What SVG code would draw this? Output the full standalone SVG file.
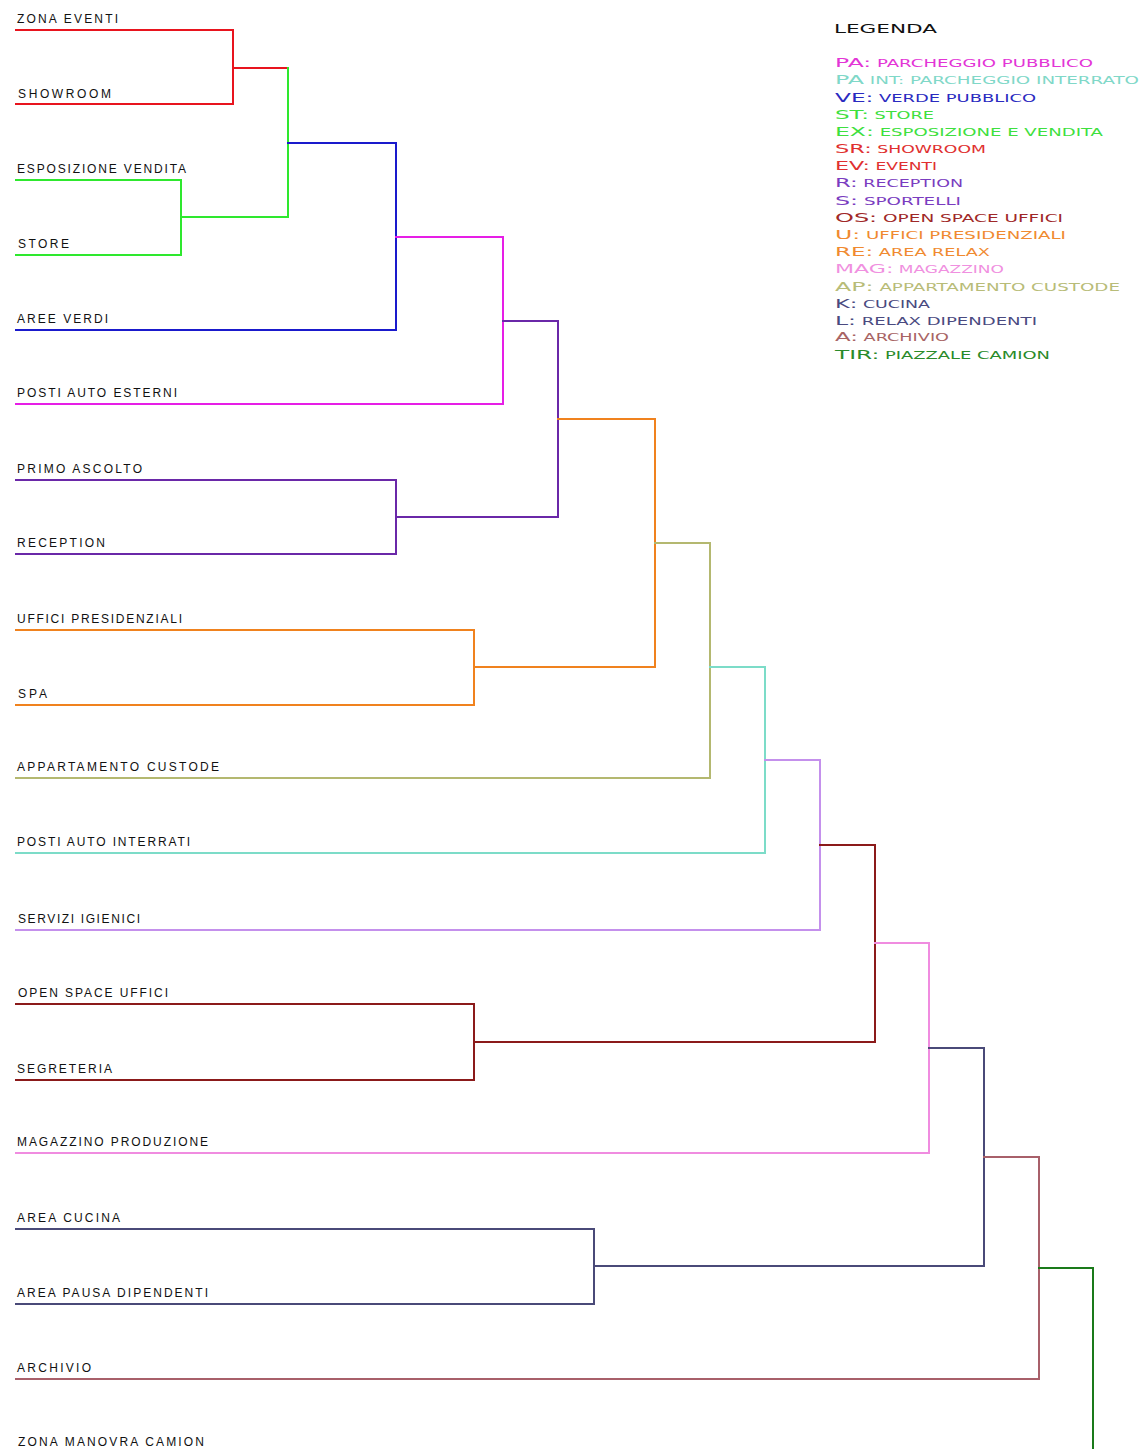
<svg xmlns="http://www.w3.org/2000/svg" width="1146" height="1449" viewBox="0 0 1146 1449">
<style>
.lbl{font-family:"Liberation Sans",Arial,sans-serif;font-size:12px;fill:#111}
.c{fill:none;stroke-width:2;stroke-linejoin:miter;stroke-linecap:square}
.lg{font-family:"DejaVu Sans","Liberation Sans",sans-serif;font-size:10px}
.lg .b{font-size:13px}
.ttl{font-family:"DejaVu Sans","Liberation Sans",sans-serif;font-size:13px;fill:#111}
</style>
<rect width="1146" height="1449" fill="#fff"/>
<g id="connectors">
<path class="c" stroke="#e8141e" d="M16 30H233V104H16M233 68H288"/>
<path class="c" stroke="#2ee82e" d="M16 180H181V255H16M181 217H288V68"/>
<path class="c" stroke="#1a1acc" d="M288 143H396V330H16"/>
<path class="c" stroke="#e61ee6" d="M396 237H503V404H16"/>
<path class="c" stroke="#6a28a8" d="M16 480H396V554H16M396 517H558V321H503"/>
<path class="c" stroke="#f0821e" d="M558 419H655V667H474M16 630H474V705H16"/>
<path class="c" stroke="#b4b870" d="M655 543H710V778H16"/>
<path class="c" stroke="#7cdcc8" d="M710 667H765V853H16"/>
<path class="c" stroke="#c490ec" d="M765 760H820V930H16"/>
<path class="c" stroke="#8b1a1a" d="M820 845H875V1042H474M16 1004H474V1080H16"/>
<path class="c" stroke="#f08ce0" d="M875 943H929V1153H16"/>
<path class="c" stroke="#4a4a78" d="M929 1048H984V1266H594M16 1229H594V1304H16"/>
<path class="c" stroke="#a8606a" d="M984 1157H1039V1379H16"/>
<path class="c" stroke="#1a7a1a" d="M1039 1268H1093V1460"/>
</g>
<g id="n-zona-eventi"><text class="lbl" x="17" y="22.5" textLength="101" lengthAdjust="spacing">ZONA EVENTI</text></g>
<g id="n-showroom"><text class="lbl" x="18" y="97.5" textLength="93" lengthAdjust="spacing">SHOWROOM</text></g>
<g id="n-esposizione"><text class="lbl" x="17" y="172.5" textLength="169" lengthAdjust="spacing">ESPOSIZIONE VENDITA</text></g>
<g id="n-store"><text class="lbl" x="18" y="247.5" textLength="51" lengthAdjust="spacing">STORE</text></g>
<g id="n-aree-verdi"><text class="lbl" x="17" y="322.5" textLength="91" lengthAdjust="spacing">AREE VERDI</text></g>
<g id="n-posti-esterni"><text class="lbl" x="17" y="396.5" textLength="160" lengthAdjust="spacing">POSTI AUTO ESTERNI</text></g>
<g id="n-primo-ascolto"><text class="lbl" x="17" y="472.5" textLength="125" lengthAdjust="spacing">PRIMO ASCOLTO</text></g>
<g id="n-reception"><text class="lbl" x="17" y="546.5" textLength="88" lengthAdjust="spacing">RECEPTION</text></g>
<g id="n-uffici-pres"><text class="lbl" x="17" y="622.5" textLength="165" lengthAdjust="spacing">UFFICI PRESIDENZIALI</text></g>
<g id="n-spa"><text class="lbl" x="18" y="697.5" textLength="29" lengthAdjust="spacing">SPA</text></g>
<g id="n-appartamento"><text class="lbl" x="17" y="770.5" textLength="202" lengthAdjust="spacing">APPARTAMENTO CUSTODE</text></g>
<g id="n-posti-interrati"><text class="lbl" x="17" y="845.5" textLength="173" lengthAdjust="spacing">POSTI AUTO INTERRATI</text></g>
<g id="n-servizi"><text class="lbl" x="18" y="922.5" textLength="122" lengthAdjust="spacing">SERVIZI IGIENICI</text></g>
<g id="n-open-space"><text class="lbl" x="18" y="996.5" textLength="150" lengthAdjust="spacing">OPEN SPACE UFFICI</text></g>
<g id="n-segreteria"><text class="lbl" x="17" y="1072.5" textLength="95" lengthAdjust="spacing">SEGRETERIA</text></g>
<g id="n-magazzino"><text class="lbl" x="17" y="1145.5" textLength="191" lengthAdjust="spacing">MAGAZZINO PRODUZIONE</text></g>
<g id="n-cucina"><text class="lbl" x="17" y="1221.5" textLength="103" lengthAdjust="spacing">AREA CUCINA</text></g>
<g id="n-pausa"><text class="lbl" x="17" y="1296.5" textLength="191" lengthAdjust="spacing">AREA PAUSA DIPENDENTI</text></g>
<g id="n-archivio"><text class="lbl" x="17" y="1371.5" textLength="74" lengthAdjust="spacing">ARCHIVIO</text></g>
<g id="n-zona-camion"><text class="lbl" x="18" y="1445.5" textLength="186" lengthAdjust="spacing">ZONA MANOVRA CAMION</text></g>
<g id="legend">
<text class="ttl" x="834" y="32.5" textLength="103" lengthAdjust="spacingAndGlyphs">LEGENDA</text>
<text class="lg" x="835" y="67" fill="#e335d6" textLength="258" lengthAdjust="spacingAndGlyphs"><tspan class="b">PA:</tspan> PARCHEGGIO PUBBLICO</text>
<text class="lg" x="835" y="84" fill="#80d8c8" textLength="304" lengthAdjust="spacingAndGlyphs"><tspan class="b">PA</tspan> INT: PARCHEGGIO INTERRATO</text>
<text class="lg" x="835" y="101.5" fill="#2a2ac0" textLength="201" lengthAdjust="spacingAndGlyphs"><tspan class="b">VE:</tspan> VERDE PUBBLICO</text>
<text class="lg" x="835" y="119" fill="#3ee03e" textLength="99" lengthAdjust="spacingAndGlyphs"><tspan class="b">ST:</tspan> STORE</text>
<text class="lg" x="835" y="136" fill="#3ee03e" textLength="268" lengthAdjust="spacingAndGlyphs"><tspan class="b">EX:</tspan> ESPOSIZIONE E VENDITA</text>
<text class="lg" x="835" y="153" fill="#e03030" textLength="151" lengthAdjust="spacingAndGlyphs"><tspan class="b">SR:</tspan> SHOWROOM</text>
<text class="lg" x="835" y="170" fill="#e03030" textLength="102" lengthAdjust="spacingAndGlyphs"><tspan class="b">EV:</tspan> EVENTI</text>
<text class="lg" x="835" y="187" fill="#7a3cc0" textLength="128" lengthAdjust="spacingAndGlyphs"><tspan class="b">R:</tspan> RECEPTION</text>
<text class="lg" x="835" y="204.5" fill="#7a3cc0" textLength="126" lengthAdjust="spacingAndGlyphs"><tspan class="b">S:</tspan> SPORTELLI</text>
<text class="lg" x="835" y="221.5" fill="#a02828" textLength="228" lengthAdjust="spacingAndGlyphs"><tspan class="b">OS:</tspan> OPEN SPACE UFFICI</text>
<text class="lg" x="835" y="239" fill="#f08a30" textLength="231" lengthAdjust="spacingAndGlyphs"><tspan class="b">U:</tspan> UFFICI PRESIDENZIALI</text>
<text class="lg" x="835" y="256" fill="#f08a30" textLength="155" lengthAdjust="spacingAndGlyphs"><tspan class="b">RE:</tspan> AREA RELAX</text>
<text class="lg" x="835" y="273" fill="#f090e0" textLength="169" lengthAdjust="spacingAndGlyphs"><tspan class="b">MAG:</tspan> MAGAZZINO</text>
<text class="lg" x="835" y="290.5" fill="#b8bc78" textLength="285" lengthAdjust="spacingAndGlyphs"><tspan class="b">AP:</tspan> APPARTAMENTO CUSTODE</text>
<text class="lg" x="835" y="307.5" fill="#4a4a80" textLength="95" lengthAdjust="spacingAndGlyphs"><tspan class="b">K:</tspan> CUCINA</text>
<text class="lg" x="835" y="324.5" fill="#4a4a80" textLength="202" lengthAdjust="spacingAndGlyphs"><tspan class="b">L:</tspan> RELAX DIPENDENTI</text>
<text class="lg" x="835" y="341" fill="#a86464" textLength="114" lengthAdjust="spacingAndGlyphs"><tspan class="b">A:</tspan> ARCHIVIO</text>
<text class="lg" x="835" y="358.5" fill="#2a8a2a" textLength="215" lengthAdjust="spacingAndGlyphs"><tspan class="b">TIR:</tspan> PIAZZALE CAMION</text>
</g>
</svg>
